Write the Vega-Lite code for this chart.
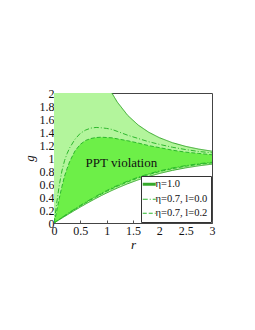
{
  "$schema": "https://vega.github.io/schema/vega-lite/v6.json",
  "width": 158,
  "height": 130,
  "autosize": "none",
  "padding": {"left": 54, "top": 93, "right": 43, "bottom": 107},
  "background": "white",
  "config": {
    "font": "Liberation Serif",
    "view": {"stroke": "#444", "strokeWidth": 1},
    "axis": {"grid": false, "domain": false, "tickColor": "#555", "tickSize": -3, "labelOverlap": false, "labelFont": "Liberation Serif", "labelFontSize": 12, "labelColor": "#111", "titleFont": "Liberation Serif", "titleFontSize": 13, "titleFontWeight": "normal", "titleFontStyle": "italic", "titleColor": "#111"}
  },
  "data": {"values": [
    {"r": 0, "lo1": 0, "hi1": 100, "lo7a": 0, "hi7a": 0, "lo7b": 0, "hi7b": 0},
    {"r": 0.025, "lo1": 0.0125, "hi1": 80, "lo7a": 0.014, "hi7a": 0.14, "lo7b": 0.0135, "hi7b": 0.08},
    {"r": 0.05, "lo1": 0.025, "hi1": 40, "lo7a": 0.028, "hi7a": 0.30, "lo7b": 0.027, "hi7b": 0.18},
    {"r": 0.1, "lo1": 0.05, "hi1": 20, "lo7a": 0.057, "hi7a": 0.58, "lo7b": 0.055, "hi7b": 0.38},
    {"r": 0.15, "lo1": 0.0749, "hi1": 13.35, "lo7a": 0.085, "hi7a": 0.80, "lo7b": 0.082, "hi7b": 0.56},
    {"r": 0.2, "lo1": 0.0997, "hi1": 10.03, "lo7a": 0.112, "hi7a": 0.96, "lo7b": 0.108, "hi7b": 0.72},
    {"r": 0.25, "lo1": 0.1244, "hi1": 8.04, "lo7a": 0.14, "hi7a": 1.07, "lo7b": 0.135, "hi7b": 0.84},
    {"r": 0.3, "lo1": 0.1489, "hi1": 6.716, "lo7a": 0.167, "hi7a": 1.16, "lo7b": 0.161, "hi7b": 0.95},
    {"r": 0.4, "lo1": 0.1974, "hi1": 5.066, "lo7a": 0.219, "hi7a": 1.29, "lo7b": 0.212, "hi7b": 1.11},
    {"r": 0.5, "lo1": 0.2449, "hi1": 4.083, "lo7a": 0.27, "hi7a": 1.38, "lo7b": 0.262, "hi7b": 1.21},
    {"r": 0.6, "lo1": 0.2913, "hi1": 3.433, "lo7a": 0.32, "hi7a": 1.43, "lo7b": 0.31, "hi7b": 1.27},
    {"r": 0.7, "lo1": 0.3364, "hi1": 2.973, "lo7a": 0.367, "hi7a": 1.46, "lo7b": 0.357, "hi7b": 1.30},
    {"r": 0.8, "lo1": 0.3799, "hi1": 2.632, "lo7a": 0.413, "hi7a": 1.47, "lo7b": 0.402, "hi7b": 1.315},
    {"r": 0.9, "lo1": 0.4219, "hi1": 2.37, "lo7a": 0.457, "hi7a": 1.465, "lo7b": 0.445, "hi7b": 1.32},
    {"r": 1.0, "lo1": 0.4621, "hi1": 2.164, "lo7a": 0.499, "hi7a": 1.455, "lo7b": 0.487, "hi7b": 1.315},
    {"r": 1.1, "lo1": 0.5005, "hi1": 1.998, "lo7a": 0.539, "hi7a": 1.44, "lo7b": 0.527, "hi7b": 1.31},
    {"r": 1.2, "lo1": 0.537, "hi1": 1.862, "lo7a": 0.576, "hi7a": 1.41, "lo7b": 0.564, "hi7b": 1.295},
    {"r": 1.4, "lo1": 0.6044, "hi1": 1.655, "lo7a": 0.645, "hi7a": 1.35, "lo7b": 0.633, "hi7b": 1.265},
    {"r": 1.6, "lo1": 0.664, "hi1": 1.506, "lo7a": 0.705, "hi7a": 1.30, "lo7b": 0.693, "hi7b": 1.23},
    {"r": 1.8, "lo1": 0.7163, "hi1": 1.396, "lo7a": 0.757, "hi7a": 1.25, "lo7b": 0.745, "hi7b": 1.19},
    {"r": 2.0, "lo1": 0.7616, "hi1": 1.313, "lo7a": 0.801, "hi7a": 1.21, "lo7b": 0.79, "hi7b": 1.16},
    {"r": 2.25, "lo1": 0.8095, "hi1": 1.235, "lo7a": 0.847, "hi7a": 1.165, "lo7b": 0.836, "hi7b": 1.12},
    {"r": 2.5, "lo1": 0.8483, "hi1": 1.179, "lo7a": 0.883, "hi7a": 1.13, "lo7b": 0.873, "hi7b": 1.09},
    {"r": 2.75, "lo1": 0.8799, "hi1": 1.137, "lo7a": 0.912, "hi7a": 1.10, "lo7b": 0.902, "hi7b": 1.07},
    {"r": 3.0, "lo1": 0.9051, "hi1": 1.105, "lo7a": 0.935, "hi7a": 1.08, "lo7b": 0.925, "hi7b": 1.05}
  ]},
  "encoding": {
    "x": {"field": "r", "type": "quantitative", "scale": {"domain": [0, 3], "nice": false, "zero": false},
      "axis": {"values": [0, 0.5, 1, 1.5, 2, 2.5, 3], "format": "~g", "title": "r", "labelPadding": 5, "titlePadding": 2, "labelFlush": false, "labelOverlap": false}}
  },
  "layer": [
    {
      "mark": {"type": "area", "clip": true, "color": "#b3f59c", "opacity": 1},
      "encoding": {
        "y": {"field": "lo1", "type": "quantitative", "scale": {"domain": [0, 2], "nice": false}, "axis": {"values": [0, 0.2, 0.4, 0.6, 0.8, 1, 1.2, 1.4, 1.6, 1.8, 2], "format": "~g", "title": "g", "labelPadding": 3, "titlePadding": 3, "labelFlush": false, "labelOverlap": false}},
        "y2": {"field": "hi1"}
      }
    },
    {
      "mark": {"type": "area", "clip": true, "color": "#6def48", "opacity": 1},
      "encoding": {"y": {"field": "lo7b", "type": "quantitative", "axis": {"values": [0, 0.2, 0.4, 0.6, 0.8, 1, 1.2, 1.4, 1.6, 1.8, 2], "format": "~g", "title": "g", "labelPadding": 3, "titlePadding": 3, "labelFlush": false, "labelOverlap": false}}, "y2": {"field": "hi7b"}}
    },
    {
      "mark": {"type": "line", "clip": true, "strokeWidth": 1},
      "encoding": {"y": {"field": "lo1", "type": "quantitative", "axis": {"values": [0, 0.2, 0.4, 0.6, 0.8, 1, 1.2, 1.4, 1.6, 1.8, 2], "format": "~g", "title": "g", "labelPadding": 3, "titlePadding": 3, "labelFlush": false, "labelOverlap": false}}, "color": {"datum": "η=1.0"}, "strokeDash": {"datum": "η=1.0"}}
    },
    {
      "mark": {"type": "line", "clip": true, "strokeWidth": 1},
      "encoding": {"y": {"field": "hi1", "type": "quantitative", "axis": {"values": [0, 0.2, 0.4, 0.6, 0.8, 1, 1.2, 1.4, 1.6, 1.8, 2], "format": "~g", "title": "g", "labelPadding": 3, "titlePadding": 3, "labelFlush": false, "labelOverlap": false}}, "color": {"datum": "η=1.0"}, "strokeDash": {"datum": "η=1.0"}}
    },
    {
      "mark": {"type": "line", "clip": true, "strokeWidth": 1},
      "encoding": {"y": {"field": "lo7a", "type": "quantitative", "axis": {"values": [0, 0.2, 0.4, 0.6, 0.8, 1, 1.2, 1.4, 1.6, 1.8, 2], "format": "~g", "title": "g", "labelPadding": 3, "titlePadding": 3, "labelFlush": false, "labelOverlap": false}}, "color": {"datum": "η=0.7, l=0.0"}, "strokeDash": {"datum": "η=0.7, l=0.0"}}
    },
    {
      "mark": {"type": "line", "clip": true, "strokeWidth": 1},
      "encoding": {"y": {"field": "hi7a", "type": "quantitative", "axis": {"values": [0, 0.2, 0.4, 0.6, 0.8, 1, 1.2, 1.4, 1.6, 1.8, 2], "format": "~g", "title": "g", "labelPadding": 3, "titlePadding": 3, "labelFlush": false, "labelOverlap": false}}, "color": {"datum": "η=0.7, l=0.0"}, "strokeDash": {"datum": "η=0.7, l=0.0"}}
    },
    {
      "mark": {"type": "line", "clip": true, "strokeWidth": 1},
      "encoding": {"y": {"field": "lo7b", "type": "quantitative", "axis": {"values": [0, 0.2, 0.4, 0.6, 0.8, 1, 1.2, 1.4, 1.6, 1.8, 2], "format": "~g", "title": "g", "labelPadding": 3, "titlePadding": 3, "labelFlush": false, "labelOverlap": false}}, "color": {"datum": "η=0.7, l=0.2"}, "strokeDash": {"datum": "η=0.7, l=0.2"}}
    },
    {
      "mark": {"type": "line", "clip": true, "strokeWidth": 1},
      "encoding": {
        "y": {"field": "hi7b", "type": "quantitative", "axis": {"values": [0, 0.2, 0.4, 0.6, 0.8, 1, 1.2, 1.4, 1.6, 1.8, 2], "format": "~g", "title": "g", "labelPadding": 3, "titlePadding": 3, "labelFlush": false, "labelOverlap": false}},
        "color": {
          "datum": "η=0.7, l=0.2",
          "scale": {"domain": ["η=1.0", "η=0.7, l=0.0", "η=0.7, l=0.2"], "range": ["#35a82a", "#2cb82c", "#2cb82c"]},
          "legend": {
            "title": null, "orient": "bottom-right", "offset": 1, "fillColor": "white", "strokeColor": "#333", "padding": 3,
            "labelFont": "Liberation Serif", "labelFontSize": 10.5, "labelColor": "#111", "symbolType": "stroke", "symbolSize": 170, "rowPadding": 3, "labelOffset": 1,
            "encode": {"symbols": {"update": {"strokeWidth": {"signal": "datum.value === 'η=1.0' ? 3 : 1.2"}, "stroke": {"signal": "datum.value === 'η=1.0' ? '#8be07a' : '#22c022'"}}}}
          }
        },
        "strokeDash": {"datum": "η=0.7, l=0.2", "scale": {"domain": ["η=1.0", "η=0.7, l=0.0", "η=0.7, l=0.2"], "range": [[1, 0], [5, 2, 1, 2], [4, 2]]}, "legend": {"title": null}}
      }
    },
    {
      "data": {"values": [{"r": 1.28, "g": 0.92, "label": "PPT violation"}]},
      "mark": {"type": "text", "font": "Liberation Serif", "fontSize": 13, "color": "#111", "baseline": "middle", "align": "center"},
      "encoding": {"y": {"field": "g", "type": "quantitative", "axis": {"values": [0, 0.2, 0.4, 0.6, 0.8, 1, 1.2, 1.4, 1.6, 1.8, 2], "format": "~g", "title": "g", "labelPadding": 3, "titlePadding": 3, "labelFlush": false, "labelOverlap": false}}, "text": {"field": "label"}}
    }
  ]
}
